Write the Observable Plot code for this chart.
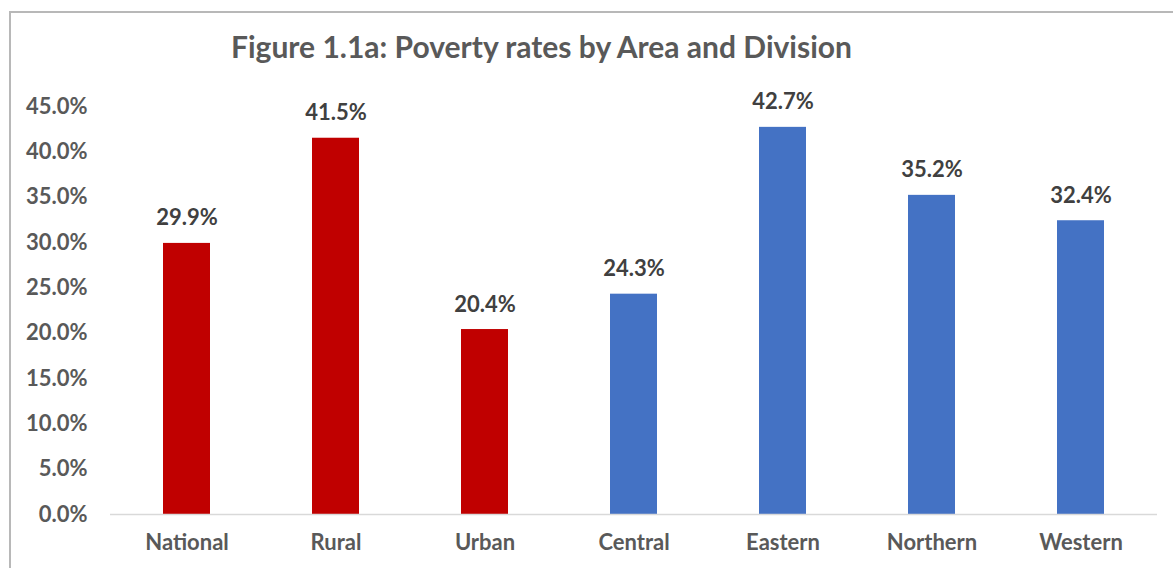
<!DOCTYPE html>
<html>
<head>
<meta charset="utf-8">
<script src="https://cdn.jsdelivr.net/npm/d3@7"></script>
<script src="https://cdn.jsdelivr.net/npm/@observablehq/plot@0.6"></script>
<style>
  html, body { margin: 0; padding: 0; background: #fff; }
  #wrap { position: relative; width: 1173px; height: 568px; overflow: hidden; font-family: Lato, "Open Sans", sans-serif; }
  #frame { position: absolute; left: 9px; top: 11px; width: 1300px; height: 700px; border: 2px solid #b8b8b8; box-sizing: border-box; }
  #title { position: relative; height: 80px; box-sizing: border-box; padding-top: 28px; padding-left: 231px; font-size: 30px; font-weight: bold; color: #595959; line-height: 36px; white-space: nowrap; }
  #chart { position: relative; }
</style>
</head>
<body>
<div id="wrap">
  <div id="frame"></div>
  <div id="title">Figure 1.1a: Poverty rates by Area and Division</div>
  <div id="chart"></div>
</div>
<script>
const categories = ["National", "Rural", "Urban", "Central", "Eastern", "Northern", "Western"];
const rates = [29.9, 41.5, 20.4, 24.3, 42.7, 35.2, 32.4];
const groups = ["Area", "Area", "Area", "Division", "Division", "Division", "Division"];
const yTicks = [0, 5, 10, 15, 20, 25, 30, 35, 40, 45];

const data = categories.map((c, i) => ({category: c, rate: rates[i], group: groups[i]}));

const chart = Plot.plot({
  width: 1173,
  height: 488,
  marginTop: 26,
  marginBottom: 54,
  marginLeft: 110,
  marginRight: 16,
  style: {fontFamily: "Lato, 'Open Sans', sans-serif", background: "transparent", overflow: "visible"},
  x: {domain: categories, paddingInner: 0.686, paddingOuter: 0.343, label: null},
  y: {domain: [0, 45], label: null},
  color: {domain: ["Area", "Division"], range: ["#C00000", "#4472C4"]},
  marks: [
    Plot.barY(data, {x: "category", y: "rate", fill: "group"}),
    Plot.ruleY([0], {stroke: "#d9d9d9", strokeWidth: 1.5}),
    Plot.text(data, {x: "category", y: "rate", text: d => d.rate.toFixed(1) + "%", dy: -25, fill: "#404040", fontSize: 22, fontWeight: "bold"}),
    Plot.axisY({ticks: yTicks, tickSize: 0, tickPadding: 23, tickFormat: d => d.toFixed(1) + "%", fontSize: 22, fontWeight: "bold", color: "#595959", label: null}),
    Plot.axisX({tickSize: 0, tickPadding: 20, fontSize: 22, fontWeight: "bold", color: "#595959", label: null})
  ]
});
document.getElementById("chart").appendChild(chart);
</script>
</body>
</html>
